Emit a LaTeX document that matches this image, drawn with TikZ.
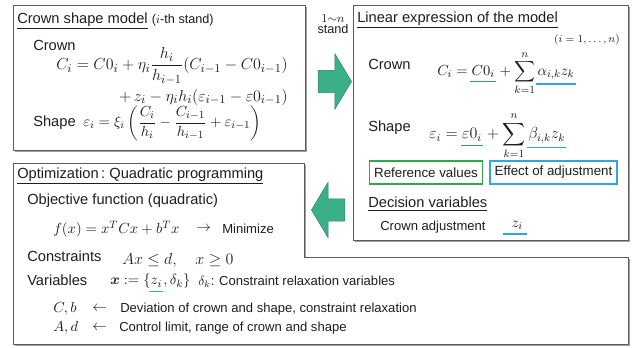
\documentclass[tikz,border=0pt]{standalone}
\usepackage[no-math]{fontspec}
\setmainfont{Liberation Sans}
\usepackage{amsmath}
\usetikzlibrary{positioning,shapes.arrows,shadows}
\definecolor{Ink}{HTML}{1E1E1E}
\definecolor{Frame}{HTML}{5C5C5C}
\definecolor{Shade}{HTML}{A0A0A0}
\definecolor{Teal}{HTML}{3BB086}
\definecolor{RefGreen}{HTML}{2EA84A}
\definecolor{AdjBlue}{HTML}{2FA7E0}
\newsavebox{\markbox}
\newcommand{\markunder}[2]{\sbox{\markbox}{$#2$}\mathord{\vtop{\copy\markbox\nointerlineskip\kern2.5pt\hbox{\kern-1pt\textcolor{#1}{\rule{\dimexpr\wd\markbox+2pt\relax}{1.1pt}}}}}}
\tikzset{
  panel/.style={draw=Frame,fill=white,line width=0.6pt,drop shadow={shadow xshift=1.4pt,shadow yshift=-1.4pt,fill=Shade,opacity=1}},
  headtext/.style={anchor=west,inner sep=0pt,font=\fontsize{11}{13}\selectfont,text=Ink},
  labeltext/.style={anchor=west,inner sep=0pt,font=\fontsize{11}{13}\selectfont,text=Ink},
  eqtext/.style={inner sep=0pt,font=\fontsize{11}{13}\selectfont,text=Ink},
  bigeq/.style={inner sep=0pt,font=\fontsize{12.6}{15}\selectfont,text=Ink},
  smalltext/.style={anchor=west,inner sep=0pt,font=\fontsize{9.8}{12}\selectfont,text=Ink},
  keybox/.style={draw=#1,line width=1.1pt,fill=white,inner sep=0pt,minimum height=17pt,font=\fontsize{10}{12}\selectfont,text=Ink},
  blockarrow/.style={single arrow,fill=Teal,draw=Teal!75!black,line width=0.4pt,inner xsep=0pt,inner ysep=8.2pt,minimum height=25pt,minimum width=41pt,single arrow head extend=12.3pt,single arrow tip angle=118}
}

\begin{document}
\begin{tikzpicture}[x=0.75pt,y=-0.75pt]
  \useasboundingbox (0,0) rectangle (635,347);
  \path[panel] (13,163) -- (304,163) -- (304,257) -- (628,257) -- (628,344) -- (13,344) -- cycle;
  \path[panel] (13,5) rectangle (305,150);
  \path[panel] (353,5) rectangle (628,240);

  % crown shape model
  \node[headtext] (modeltitle) at (17,21) {\underline{Crown shape model} {\fontsize{9.5}{11}\selectfont($i$-th stand)}};
  \node[labeltext] (crownlbl) at (33,45) {Crown};
  \node[bigeq,anchor=east] (crowneq) at (288,66) {$C_i = C0_i + \eta_i \dfrac{h_i}{h_{i-1}}(C_{i-1} - C0_{i-1})$};
  \node[bigeq,anchor=east] (crowneqb) at (288,97) {$+\, z_i - \eta_i h_i(\varepsilon_{i-1} - \varepsilon0_{i-1})$};
  \node[labeltext] (shapelbl) at (33,123) {Shape};
  \node[eqtext,anchor=west] (shapeeq) at (83,123) {$\varepsilon_i = \xi_i\left(\dfrac{C_i}{h_i} - \dfrac{C_{i-1}}{h_{i-1}} + \varepsilon_{i-1}\right)$};

  % linear expression
  \node[headtext] (lineartitle) at (357,20) {\underline{Linear expression of the model}};
  \node[eqtext,anchor=east,font=\fontsize{8}{10}\selectfont] (range) at (620,40) {$(i = 1,\ldots,n)$};
  \node[labeltext] (lincrown) at (368,64) {Crown};
  \node[eqtext,anchor=west] (lincrowneq) at (437,73) {$\displaystyle C_i = \markunder{RefGreen}{C0_i} + \sum_{k=1}^{n} \markunder{AdjBlue}{\alpha_{i,k} z_k}$};
  \node[labeltext] (linshape) at (368,128) {Shape};
  \node[eqtext,anchor=west,font=\fontsize{11.6}{14}\selectfont] (linshapeeq) at (429,136) {$\displaystyle \varepsilon_i = \markunder{RefGreen}{\varepsilon0_i} + \sum_{k=1}^{n} \markunder{AdjBlue}{\beta_{i,k} z_k}$};
  \node[keybox=RefGreen,minimum width=85pt] (refkey) at (426,172.5) {Reference values};
  \node[keybox=AdjBlue,minimum width=95pt] (adjkey) at (553.5,172.5) {Effect of adjustment};
  \node[headtext] (decision) at (368,204) {\underline{Decision variables}};
  \node[smalltext] (adjlbl) at (380,227) {Crown adjustment};
  \node[eqtext,anchor=west] (adjvar) at (504,228) {$\markunder{AdjBlue}{\enspace z_i\,}$};

  % optimization
  \node[headtext] (opttitle) at (17,176) {\underline{Optimization\,:\ Quadratic programming}};
  \node[labeltext] (objlbl) at (27,201) {Objective function (quadratic)};
  \node[eqtext,anchor=west] (objeq) at (53,229) {$f(x) = x^T C x + b^T x$};
  \node[eqtext,anchor=west] (objarrow) at (196,229) {$\rightarrow$};
  \node[smalltext] (minimize) at (222,229) {Minimize};
  \node[labeltext] (conlbl) at (27,256) {Constraints};
  \node[eqtext,anchor=west,font=\fontsize{12}{14}\selectfont] (coneq) at (122,260) {$Ax \le d,\quad x \ge 0$};
  \node[labeltext] (varlbl) at (27,280) {Variables};
  \node[eqtext,anchor=west] (vareq) at (110,283) {$\boldsymbol{x} \mathrel{:=} \{\markunder{AdjBlue}{z_i}, \delta_k\}$};
  \node[smalltext] (relax) at (198,282) {$\delta_k$: Constraint relaxation variables};
  \node[eqtext,anchor=west] (cb) at (53,309) {$C, b$};
  \node[eqtext,anchor=west] (cbarrow) at (92,309) {$\leftarrow$};
  \node[smalltext] (cbtext) at (120,309) {Deviation of crown and shape, constraint relaxation};
  \node[eqtext,anchor=west] (ad) at (53,328) {$A, d$};
  \node[eqtext,anchor=west] (adarrow) at (92,328) {$\leftarrow$};
  \node[smalltext] (adtext) at (119,328) {Control limit, range of crown and shape};

  % block arrows
  \node[eqtext,font=\fontsize{9.5}{11}\selectfont] (standn) at (333,19) {$1{\sim}n$};
  \node[eqtext,font=\fontsize{9.5}{11}\selectfont,below=1pt of standn] (stand) {stand};
  \node[blockarrow] (toright) at (331.5,81.5) {};
  \node[blockarrow,shape border rotate=180] (toleft) at (331.5,210) {};
\end{tikzpicture}
\end{document}
